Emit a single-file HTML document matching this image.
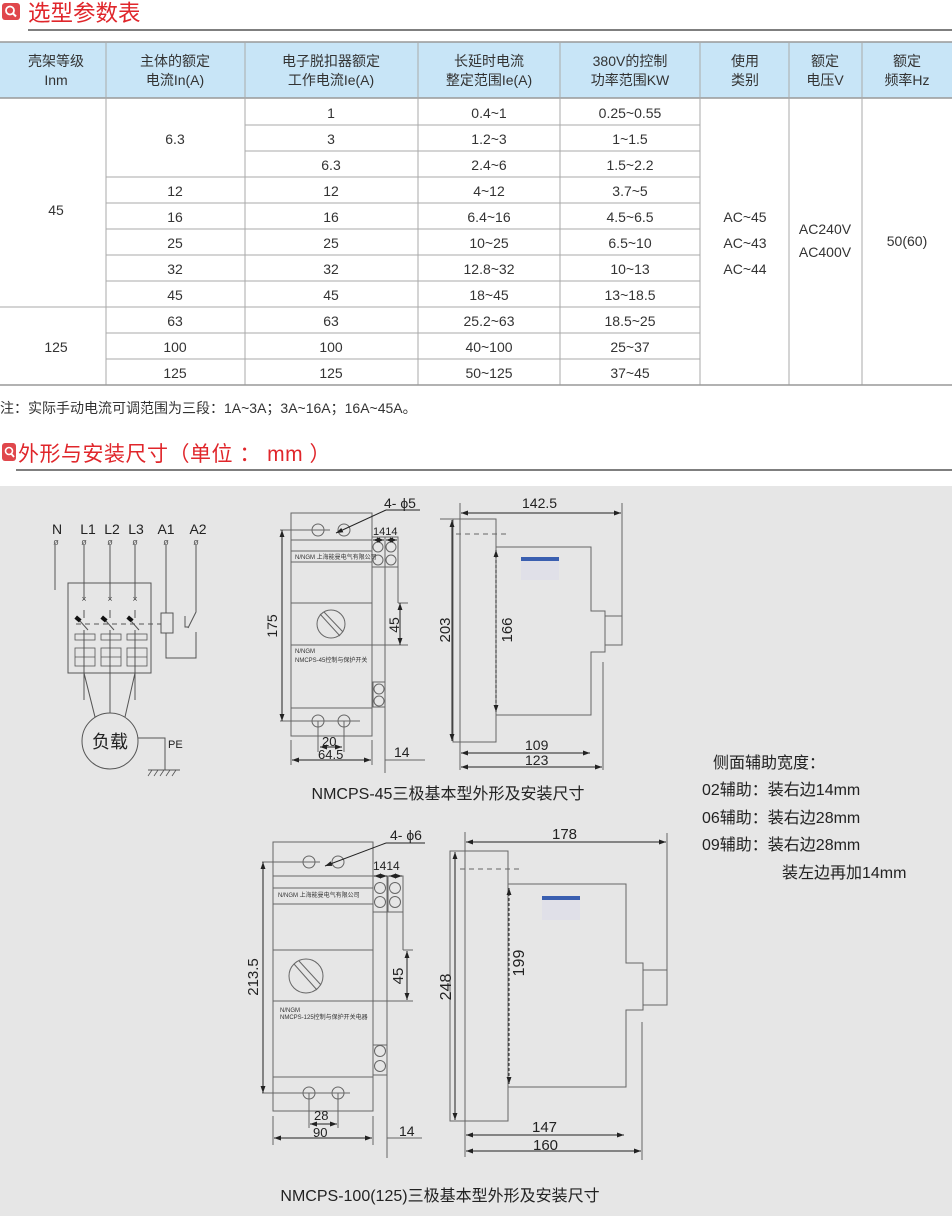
<!DOCTYPE html>
<html><head><meta charset="utf-8"><style>
html,body{margin:0;padding:0;background:#fff}
svg{display:block}
text{font-family:"Liberation Sans","Noto Sans CJK SC",sans-serif}
</style></head><body>
<svg width="952" height="1216" viewBox="0 0 952 1216" xmlns="http://www.w3.org/2000/svg">
<defs>
<marker id="a" viewBox="0 0 10 10" refX="10" refY="5" markerWidth="7" markerHeight="7" orient="auto-start-reverse"><path d="M0,1.5 L10,5 L0,8.5z" fill="#222"/></marker>
</defs>
<!-- heading 1 -->
<rect x="2" y="3" width="18" height="17" rx="3" fill="#e0474c"/>
<circle cx="10" cy="10.5" r="4" fill="none" stroke="#fff" stroke-width="1.8"/><line x1="13" y1="13.5" x2="16" y2="16.5" stroke="#fff" stroke-width="2"/>
<text x="28" y="21" font-size="22.5" fill="#e0262b">选型参数表</text>
<line x1="28" y1="30" x2="952" y2="30" stroke="#555" stroke-width="1.5"/>
<!-- table -->
<rect x="0" y="42" width="952" height="56" fill="#c8e5f7"/>
<line x1="0" y1="42" x2="952" y2="42" stroke="#999" stroke-width="1.5"/>
<line x1="0" y1="98" x2="952" y2="98" stroke="#999" stroke-width="1.5"/>
<g stroke="#aaa" stroke-width="1">
<line x1="106" y1="42" x2="106" y2="385"/><line x1="245" y1="42" x2="245" y2="385"/><line x1="418" y1="42" x2="418" y2="385"/><line x1="560" y1="42" x2="560" y2="385"/><line x1="700" y1="42" x2="700" y2="385"/><line x1="789" y1="42" x2="789" y2="385"/><line x1="862" y1="42" x2="862" y2="385"/>
<line x1="245" y1="125" x2="700" y2="125"/><line x1="245" y1="151" x2="700" y2="151"/>
<line x1="106" y1="177" x2="700" y2="177"/><line x1="106" y1="203" x2="700" y2="203"/><line x1="106" y1="229" x2="700" y2="229"/><line x1="106" y1="255" x2="700" y2="255"/><line x1="106" y1="281" x2="700" y2="281"/>
<line x1="0" y1="307" x2="700" y2="307"/><line x1="106" y1="333" x2="700" y2="333"/><line x1="106" y1="359" x2="700" y2="359"/>
</g>
<line x1="0" y1="385" x2="952" y2="385" stroke="#999" stroke-width="1.5"/>
<g font-size="14" fill="#333" text-anchor="middle">
<text x="56" y="66">壳架等级</text><text x="56" y="85">Inm</text>
<text x="175" y="66">主体的额定</text><text x="175" y="85">电流In(A)</text>
<text x="331" y="66">电子脱扣器额定</text><text x="331" y="85">工作电流Ie(A)</text>
<text x="489" y="66">长延时电流</text><text x="489" y="85">整定范围Ie(A)</text>
<text x="630" y="66">380V的控制</text><text x="630" y="85">功率范围KW</text>
<text x="745" y="66">使用</text><text x="745" y="85">类别</text>
<text x="825" y="66">额定</text><text x="825" y="85">电压V</text>
<text x="907" y="66">额定</text><text x="907" y="85">频率Hz</text>
<text x="56" y="215">45</text><text x="56" y="352">125</text>
<text x="175" y="144">6.3</text><text x="175" y="196">12</text><text x="175" y="222">16</text><text x="175" y="248">25</text><text x="175" y="274">32</text><text x="175" y="300">45</text><text x="175" y="326">63</text><text x="175" y="352">100</text><text x="175" y="378">125</text>
<text x="331" y="118">1</text><text x="331" y="144">3</text><text x="331" y="170">6.3</text><text x="331" y="196">12</text><text x="331" y="222">16</text><text x="331" y="248">25</text><text x="331" y="274">32</text><text x="331" y="300">45</text><text x="331" y="326">63</text><text x="331" y="352">100</text><text x="331" y="378">125</text>
<text x="489" y="118">0.4~1</text><text x="489" y="144">1.2~3</text><text x="489" y="170">2.4~6</text><text x="489" y="196">4~12</text><text x="489" y="222">6.4~16</text><text x="489" y="248">10~25</text><text x="489" y="274">12.8~32</text><text x="489" y="300">18~45</text><text x="489" y="326">25.2~63</text><text x="489" y="352">40~100</text><text x="489" y="378">50~125</text>
<text x="630" y="118">0.25~0.55</text><text x="630" y="144">1~1.5</text><text x="630" y="170">1.5~2.2</text><text x="630" y="196">3.7~5</text><text x="630" y="222">4.5~6.5</text><text x="630" y="248">6.5~10</text><text x="630" y="274">10~13</text><text x="630" y="300">13~18.5</text><text x="630" y="326">18.5~25</text><text x="630" y="352">25~37</text><text x="630" y="378">37~45</text>
<text x="745" y="222">AC~45</text><text x="745" y="248">AC~43</text><text x="745" y="274">AC~44</text>
<text x="825" y="234">AC240V</text><text x="825" y="257">AC400V</text>
<text x="907" y="246">50(60)</text>
</g>
<text x="0" y="413" font-size="14" fill="#333">注：实际手动电流可调范围为三段：1A~3A；3A~16A；16A~45A。</text>
<!-- heading 2 -->
<rect x="2" y="443" width="14" height="18" rx="3" fill="#e0474c"/>
<circle cx="9" cy="451" r="3.5" fill="none" stroke="#fff" stroke-width="1.6"/><line x1="11.5" y1="454" x2="14" y2="457" stroke="#fff" stroke-width="1.8"/>
<text x="18" y="461" font-size="21" letter-spacing="0.5" fill="#e0262b">外形与安装尺寸（单位 ： mm ）</text>
<line x1="16" y1="470" x2="952" y2="470" stroke="#555" stroke-width="1.5"/>
<rect x="0" y="486" width="952" height="730" fill="#e6e6e6"/>

<g stroke="#555" stroke-width="1" fill="none">
<!-- circuit -->
<line x1="55" y1="545" x2="55" y2="590"/>
<line x1="84" y1="545" x2="84" y2="600"/><line x1="110" y1="545" x2="110" y2="600"/><line x1="135" y1="545" x2="135" y2="600"/>
<rect x="68" y="583" width="83" height="90"/>
<line x1="84" y1="610" x2="84" y2="618"/><line x1="110" y1="610" x2="110" y2="618"/><line x1="135" y1="610" x2="135" y2="618"/>
<line x1="84" y1="630" x2="84" y2="700"/><line x1="110" y1="630" x2="110" y2="713"/><line x1="135" y1="630" x2="135" y2="700"/>
<line x1="84" y1="673" x2="95" y2="717"/><line x1="135" y1="673" x2="125" y2="717"/>
<line x1="76" y1="624" x2="161" y2="624" stroke-dasharray="5,4"/>
<rect x="161" y="613" width="12" height="20"/>
<polyline points="166,545 166,613"/><polyline points="166,633 166,658 196,658 196,632"/>
<polyline points="196,545 196,612 188,628"/><path d="M185,616 L185,627 L188,627"/>
<circle cx="110" cy="741" r="28"/>
<polyline points="138,738 165,738 165,770"/>
<line x1="148" y1="770" x2="180" y2="770"/>
<g stroke-width="0.8"><line x1="152" y1="770" x2="148" y2="776"/><line x1="158" y1="770" x2="154" y2="776"/><line x1="164" y1="770" x2="160" y2="776"/><line x1="170" y1="770" x2="166" y2="776"/><line x1="176" y1="770" x2="172" y2="776"/></g>
<g stroke-width="0.8"><rect x="75" y="634" width="20" height="6"/><rect x="101" y="634" width="20" height="6"/><rect x="127" y="634" width="20" height="6"/>
<rect x="75" y="648" width="20" height="18"/><rect x="101" y="648" width="20" height="18"/><rect x="127" y="648" width="20" height="18"/>
<line x1="75" y1="657" x2="95" y2="657"/><line x1="101" y1="657" x2="121" y2="657"/><line x1="127" y1="657" x2="147" y2="657"/></g>
</g>
<g fill="#111"><rect x="75" y="617" width="6" height="4" transform="rotate(40 78 619)"/><rect x="101" y="617" width="6" height="4" transform="rotate(40 104 619)"/><rect x="127" y="617" width="6" height="4" transform="rotate(40 130 619)"/></g>
<g stroke="#555" stroke-width="1" fill="none"><line x1="80" y1="621" x2="88" y2="630"/><line x1="106" y1="621" x2="114" y2="630"/><line x1="131" y1="621" x2="139" y2="630"/></g>
<g font-size="9" fill="#555" text-anchor="middle"><text x="84" y="602">×</text><text x="110" y="602">×</text><text x="135" y="602">×</text>
<text x="56" y="545">ø</text><text x="84" y="545">ø</text><text x="110" y="545">ø</text><text x="135" y="545">ø</text><text x="166" y="545">ø</text><text x="196" y="545">ø</text></g>
<g font-size="14" fill="#222" text-anchor="middle"><text x="57" y="534">N</text><text x="88" y="534">L1</text><text x="112" y="534">L2</text><text x="136" y="534">L3</text><text x="166" y="534">A1</text><text x="198" y="534">A2</text></g>
<text x="110" y="748" font-size="18" fill="#222" text-anchor="middle" font-family="Noto Serif CJK SC, serif">负载</text>
<text x="168" y="748" font-size="11" fill="#222">PE</text>

<!-- device 1 front -->
<g stroke="#666" stroke-width="1" fill="none">
<rect x="291" y="513" width="81" height="223"/>
<line x1="291" y1="540" x2="372" y2="540"/><line x1="291" y1="551" x2="372" y2="551"/><line x1="291" y1="562" x2="372" y2="562"/>
<line x1="291" y1="603" x2="372" y2="603"/><line x1="291" y1="645" x2="372" y2="645"/><line x1="291" y1="708" x2="372" y2="708"/>
<circle cx="318" cy="530" r="6"/><circle cx="344" cy="530" r="6"/><circle cx="318" cy="721" r="6"/><circle cx="344" cy="721" r="6"/>
<rect x="372" y="537" width="13" height="30"/><rect x="385" y="537" width="13" height="30"/>
<circle cx="378" cy="547" r="5"/><circle cx="391" cy="547" r="5"/><circle cx="378" cy="560" r="5"/><circle cx="391" cy="560" r="5"/>
<rect x="373" y="682" width="12" height="25"/><circle cx="379" cy="689" r="5"/><circle cx="379" cy="701" r="5"/>
<line x1="385" y1="537" x2="385" y2="773"/><line x1="398" y1="537" x2="398" y2="603"/>
<circle cx="331" cy="624" r="14"/><line x1="320" y1="614" x2="340" y2="636"/><line x1="324" y1="612" x2="343" y2="632"/>
<line x1="280" y1="530" x2="330" y2="530"/><line x1="280" y1="721" x2="360" y2="721"/>
<line x1="318" y1="721" x2="318" y2="752"/><line x1="344" y1="721" x2="344" y2="752"/>
<line x1="291" y1="740" x2="291" y2="765"/><line x1="372" y1="740" x2="372" y2="765"/>
<line x1="398" y1="603" x2="408" y2="603"/><line x1="372" y1="645" x2="408" y2="645"/>
<line x1="385" y1="760" x2="425" y2="760"/>
</g>
<g stroke="#222" stroke-width="1" fill="none" marker-start="url(#a)" marker-end="url(#a)">
<line x1="282" y1="530" x2="282" y2="721"/><line x1="400" y1="603" x2="400" y2="645"/>
<line x1="320" y1="747" x2="342" y2="747"/><line x1="292" y1="760" x2="371" y2="760"/>
<line x1="373" y1="540" x2="384" y2="540"/><line x1="386" y1="540" x2="397" y2="540"/>
</g>
<line x1="336" y1="533" x2="386" y2="510" stroke="#222" marker-start="url(#a)"/><line x1="386" y1="510" x2="420" y2="510" stroke="#222"/>
<g fill="#333" font-size="6"><text x="295" y="559">N/NGM 上海能曼电气有限公司</text><text x="295" y="653">N/NGM</text><text x="295" y="662">NMCPS-45控制与保护开关</text></g>
<g fill="#222" font-size="14"><text x="384" y="508">4- ϕ5</text><text x="373" y="535" font-size="11">1414</text>
<text x="322" y="746" font-size="13">20</text><text x="318" y="759" font-size="13">64.5</text><text x="394" y="757">14</text>
<text transform="translate(277,626) rotate(-90)" text-anchor="middle">175</text><text transform="translate(399,625) rotate(-90)" text-anchor="middle">45</text></g>

<!-- device 1 side -->
<g stroke="#666" stroke-width="1" fill="none">
<rect x="453" y="519" width="43" height="223"/>
<polyline points="496,547 591,547 591,611 605,611 605,652 591,652 591,715 496,715"/>
<rect x="605" y="616" width="17" height="29"/>
<line x1="460" y1="503" x2="460" y2="770"/><line x1="622" y1="503" x2="622" y2="616"/><line x1="603" y1="662" x2="603" y2="770"/>
<line x1="456" y1="534" x2="507" y2="534" stroke-dasharray="5,4"/>
<line x1="440" y1="519" x2="453" y2="519"/>
</g>
<g stroke="#222" stroke-width="1" fill="none" marker-start="url(#a)" marker-end="url(#a)">
<line x1="461" y1="513" x2="621" y2="513"/><line x1="452" y1="520" x2="452" y2="741"/>
<line x1="461" y1="753" x2="590" y2="753"/><line x1="461" y1="767" x2="602" y2="767"/>
<line x1="496" y1="550" x2="496" y2="712" stroke-dasharray="3,2"/>
</g>
<rect x="521" y="557" width="38" height="23" fill="#e0e0e8"/><rect x="521" y="557" width="38" height="4" fill="#3a5fb0"/>
<g fill="#222" font-size="14"><text x="522" y="508">142.5</text><text x="525" y="750">109</text><text x="525" y="765">123</text>
<text transform="translate(450,630) rotate(-90)" text-anchor="middle" font-size="15">203</text><text transform="translate(512,630) rotate(-90)" text-anchor="middle" font-size="15">166</text></g>
<text x="448" y="799" font-size="16" fill="#222" text-anchor="middle">NMCPS-45三极基本型外形及安装尺寸</text>

<!-- right text -->
<g font-size="16" fill="#222"><text x="713" y="768">侧面辅助宽度：</text><text x="702" y="795">02辅助：装右边14mm</text><text x="702" y="823">06辅助：装右边28mm</text><text x="702" y="850">09辅助：装右边28mm</text><text x="782" y="878">装左边再加14mm</text></g>

<!-- device 2 front -->
<g stroke="#666" stroke-width="1" fill="none">
<rect x="273" y="842" width="100" height="269"/>
<line x1="273" y1="876" x2="373" y2="876"/><line x1="273" y1="888" x2="373" y2="888"/><line x1="273" y1="904" x2="373" y2="904"/>
<line x1="273" y1="950" x2="373" y2="950"/><line x1="273" y1="1001" x2="373" y2="1001"/><line x1="273" y1="1077" x2="373" y2="1077"/>
<circle cx="309" cy="862" r="6"/><circle cx="338" cy="862" r="6"/><circle cx="309" cy="1093" r="6"/><circle cx="338" cy="1093" r="6"/>
<rect x="373" y="876" width="15" height="36"/><rect x="388" y="876" width="15" height="36"/>
<circle cx="380" cy="888" r="5.5"/><circle cx="395" cy="888" r="5.5"/><circle cx="380" cy="902" r="5.5"/><circle cx="395" cy="902" r="5.5"/>
<rect x="373" y="1045" width="14" height="30"/><circle cx="380" cy="1051" r="5.5"/><circle cx="380" cy="1066" r="5.5"/>
<line x1="387" y1="876" x2="387" y2="1158"/><line x1="403" y1="876" x2="403" y2="950"/>
<circle cx="306" cy="976" r="17"/><line x1="294" y1="964" x2="317" y2="990"/><line x1="299" y1="961" x2="321" y2="985"/>
<line x1="262" y1="862" x2="320" y2="862"/><line x1="262" y1="1093" x2="350" y2="1093"/>
<line x1="309" y1="1093" x2="309" y2="1128"/><line x1="338" y1="1093" x2="338" y2="1128"/>
<line x1="273" y1="1116" x2="273" y2="1145"/><line x1="373" y1="1116" x2="373" y2="1145"/>
<line x1="403" y1="950" x2="413" y2="950"/><line x1="373" y1="1001" x2="413" y2="1001"/>
<line x1="387" y1="1138" x2="422" y2="1138"/>
</g>
<g stroke="#222" stroke-width="1" fill="none" marker-start="url(#a)" marker-end="url(#a)">
<line x1="263" y1="862" x2="263" y2="1093"/><line x1="407" y1="951" x2="407" y2="1000"/>
<line x1="310" y1="1124" x2="337" y2="1124"/><line x1="274" y1="1138" x2="372" y2="1138"/>
<line x1="374" y1="876" x2="387" y2="876"/><line x1="389" y1="876" x2="402" y2="876"/>
</g>
<line x1="325" y1="866" x2="386" y2="843" stroke="#222" marker-start="url(#a)"/><line x1="386" y1="843" x2="425" y2="843" stroke="#222"/>
<g fill="#333" font-size="6"><text x="278" y="897">N/NGM 上海能曼电气有限公司</text><text x="280" y="1012">N/NGM</text><text x="280" y="1019">NMCPS-125控制与保护开关电器</text></g>
<g fill="#222" font-size="14"><text x="390" y="840">4- ϕ6</text><text x="373" y="870" font-size="12">1414</text>
<text x="314" y="1120" font-size="13">28</text><text x="313" y="1137" font-size="13">90</text><text x="399" y="1136">14</text>
<text transform="translate(258,977) rotate(-90)" text-anchor="middle" font-size="15">213.5</text><text transform="translate(403,976) rotate(-90)" text-anchor="middle" font-size="15">45</text></g>

<!-- device 2 side -->
<g stroke="#666" stroke-width="1" fill="none">
<rect x="450" y="851" width="58" height="270"/>
<polyline points="508,884 626,884 626,963 643,963 643,1010 626,1010 626,1087 508,1087"/>
<rect x="643" y="970" width="24" height="35"/>
<line x1="465" y1="832" x2="465" y2="1157"/><line x1="667" y1="833" x2="667" y2="970"/><line x1="642" y1="1022" x2="642" y2="1160"/>
<line x1="460" y1="869" x2="520" y2="869" stroke-dasharray="5,4"/>
</g>
<g stroke="#222" stroke-width="1" fill="none" marker-start="url(#a)" marker-end="url(#a)">
<line x1="466" y1="842" x2="666" y2="842"/><line x1="455" y1="852" x2="455" y2="1120"/>
<line x1="466" y1="1135" x2="624" y2="1135"/><line x1="466" y1="1151" x2="641" y2="1151"/>
<line x1="509" y1="888" x2="509" y2="1084" stroke-dasharray="3,2"/>
</g>
<rect x="542" y="896" width="38" height="24" fill="#e0e0e8"/><rect x="542" y="896" width="38" height="4" fill="#3a5fb0"/>
<g fill="#222" font-size="15"><text x="552" y="839">178</text><text x="532" y="1132">147</text><text x="533" y="1150">160</text>
<text transform="translate(451,987) rotate(-90)" text-anchor="middle" font-size="16">248</text><text transform="translate(524,963) rotate(-90)" text-anchor="middle" font-size="16">199</text></g>
<text x="440" y="1201" font-size="16" fill="#222" text-anchor="middle">NMCPS-100(125)三极基本型外形及安装尺寸</text>
</svg>
</body></html>
